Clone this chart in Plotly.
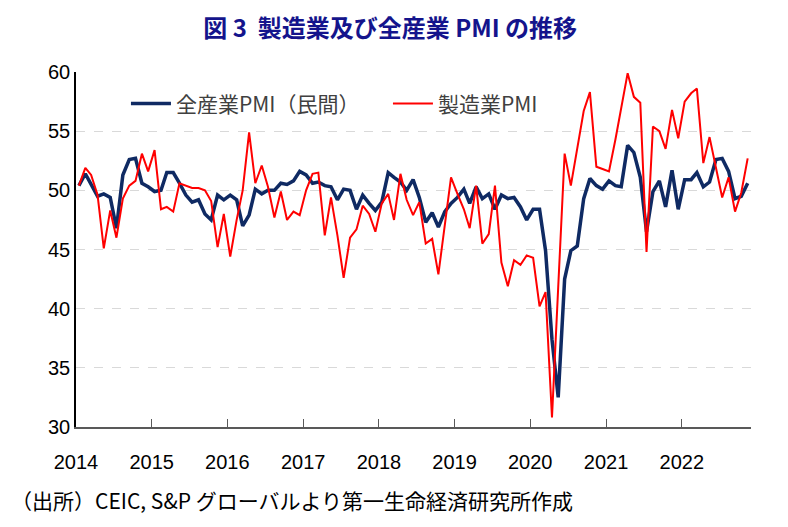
import plotly.graph_objects as go
import pandas as pd

# monthly, Jan 2014 - Nov 2022
months = pd.date_range("2014-01-01", periods=107, freq="MS") + pd.Timedelta(days=14)

all_pmi = [
    50.4, 51.4, 50.5, 49.5, 49.7, 49.4, 46.8, 51.3, 52.6, 52.7, 50.6, 50.3,   # 2014
    49.9, 50.0, 51.5, 51.5, 50.6, 49.6, 49.0, 49.2, 48.0, 47.5, 49.6, 49.2,   # 2015
    49.6, 49.2, 47.0, 47.9, 50.1, 49.7, 50.0, 50.0, 50.6, 50.5, 50.8, 51.6,   # 2016
    51.3, 50.6, 50.7, 50.4, 50.3, 49.2, 50.1, 50.0, 48.4, 49.6, 48.9, 48.3,   # 2017
    49.0, 51.5, 51.1, 50.7, 50.0, 50.9, 49.4, 47.3, 48.1, 46.9, 48.2, 48.9,   # 2018
    49.4, 50.1, 48.9, 50.3, 49.3, 49.7, 48.4, 49.6, 49.3, 49.4, 48.6, 47.5,   # 2019
    48.4, 48.4, 44.9, 37.4, 32.5, 42.5, 44.9, 45.3, 49.3, 51.0, 50.4, 50.1,   # 2020
    50.8, 50.4, 50.3, 53.8, 53.2, 51.1, 46.5, 49.9, 50.8, 48.6, 51.7, 48.4,   # 2021
    50.9, 50.9, 51.5, 50.3, 50.7, 52.6, 52.7, 51.6, 49.3, 49.5, 50.6,         # 2022
]

mfg_pmi = [
    50.4, 51.9, 51.3, 49.6, 45.1, 48.3, 46.0, 49.3, 50.4, 50.8, 53.1, 51.6,   # 2014
    53.4, 48.4, 48.6, 48.2, 50.6, 50.4, 50.2, 50.2, 50.0, 49.1, 45.2, 48.0,   # 2015
    44.4, 47.5, 50.0, 54.9, 50.6, 52.1, 50.3, 47.7, 49.9, 47.5, 48.2, 47.9,   # 2016
    50.0, 51.4, 51.5, 46.2, 49.4, 46.2, 42.6, 46.0, 46.7, 48.7, 48.0, 46.5,   # 2017
    48.9, 49.7, 47.5, 51.4, 49.2, 47.9, 49.0, 45.5, 45.9, 42.9, 47.0, 51.1,   # 2018
    49.7, 48.4, 46.8, 50.4, 45.5, 46.3, 50.4, 43.9, 41.9, 44.1, 43.7, 44.5,   # 2019
    44.3, 40.2, 41.4, 30.8, 41.8, 53.1, 50.4, 53.5, 56.7, 58.3, 52.0, 51.8,   # 2020
    51.6, 54.3, 57.1, 59.9, 57.9, 57.4, 44.8, 55.4, 55.0, 53.5, 56.8, 54.4,   # 2021
    57.5, 58.2, 58.6, 52.3, 54.5, 51.9, 49.4, 51.1, 48.2, 49.8, 52.7,         # 2022
]

jp_font = "Noto Sans CJK JP"

fig = go.Figure()
fig.add_trace(go.Scatter(x=months, y=all_pmi, mode="lines", name="全産業PMI（民間）",
                         line=dict(color="#0F2A63", width=3.5)))
fig.add_trace(go.Scatter(x=months, y=mfg_pmi, mode="lines", name="製造業PMI",
                         line=dict(color="#FF0000", width=2)))

# page has an 8px body margin, so the figure is a little smaller than the window
fig.update_layout(
    width=780, height=519,
    margin=dict(l=68, r=37, t=64, b=100),
    paper_bgcolor="white", plot_bgcolor="white",
    font=dict(family="Liberation Sans", size=20, color="#000000"),
    title=dict(text="<b>図 3  製造業及び全産業 PMI の推移</b>",
               font=dict(family=jp_font, size=24, color="#14148C"),
               xref="container", x=0.49, xanchor="center",
               yref="container", y=0.961, yanchor="middle"),
    legend=dict(orientation="h", x=0.074, y=0.91, xanchor="left", yanchor="middle",
                font=dict(family=jp_font, size=21, color="#404040"),
                bgcolor="rgba(0,0,0,0)", entrywidth=207, itemwidth=40),
    showlegend=True,
)

fig.update_xaxes(
    type="date", range=["2014-01-01", "2022-12-01"],
    tick0="2014-01-01", dtick="M12", tickformat="%Y",
    ticks="inside", ticklen=8, tickcolor="#595959",
    showline=True, linecolor="#595959", linewidth=1.5,
    showgrid=False, ticklabelstandoff=16,
    tickfont=dict(family="Liberation Sans", size=20, color="#000000"),
)
fig.update_yaxes(
    range=[30, 60], dtick=5,
    showline=True, linecolor="#000000", linewidth=1.5,
    showgrid=True, gridcolor="#D9D9D9", griddash="dash", gridwidth=1,
    zeroline=False, ticks="",
    tickfont=dict(family="Liberation Sans", size=20, color="#000000"),
)

fig.add_annotation(text="（出所）CEIC, S&P グローバルより第一生命経済研究所作成",
                   xref="paper", yref="paper", x=-0.1, y=-0.205,
                   xanchor="left", yanchor="middle", showarrow=False,
                   font=dict(family=jp_font, size=21, color="#000000"))

fig.write_html("out.html")
